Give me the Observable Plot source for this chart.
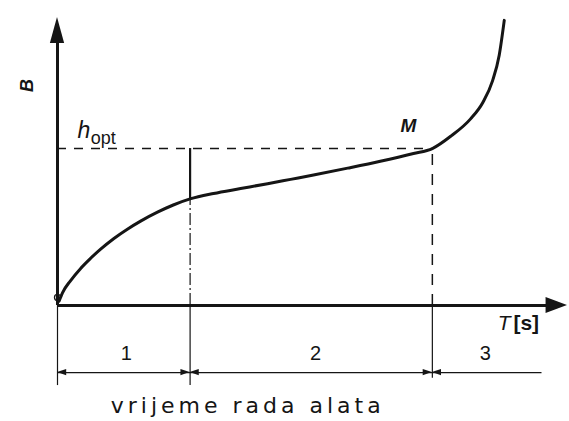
<!DOCTYPE html>
<html><head><meta charset="utf-8">
<script src="https://cdn.jsdelivr.net/npm/d3@7"></script>
<script src="https://cdn.jsdelivr.net/npm/@observablehq/plot@0.6"></script>
<style>body{margin:0;background:#fff}</style>
</head><body><div id="chart"></div>
<script>
// Wear curve B(T): time of tool work (abstract units 0-100) vs wear
const curveT = [0.3, 1.0, 2.5, 4.5, 6.5, 8.4, 11.0, 13.7, 16.3, 19.6, 22.7, 26.0, 30.6, 35.9, 41.2, 45.7, 50.2, 56.9, 63.3, 69.8, 73.5, 77.2, 81.0, 83.4, 85.3, 86.6, 87.6];
const curveB = [1.5, 4.5, 8.5, 12.8, 16.4, 19.5, 23.2, 26.5, 29.3, 32.4, 34.9, 37.0, 38.9, 40.6, 42.3, 43.8, 45.3, 47.7, 50.1, 52.8, 54.5, 58.9, 64.8, 70.5, 78.0, 86.8, 99.0];
const hOpt = 54.5;          // optimal wear level h_opt
const tM = 73.5;            // time at point M
const t1 = 26.0;            // end of phase 1
const bAtT1 = 37.0;         // wear at end of phase 1
const phaseLabels = ["1", "2", "3"];
const phaseCenters = [13.5, 50.6, 83.9];
const dimEnd = 95;

const curve = curveT.map((t, i) => ({t, b: curveB[i]}));
const ink = "#151515";

// arrowhead helpers (filled triangles through areas)
const hArrow = (tip, y, dir, len, half, z) => [
  {x: tip, y1: y, y2: y, z},
  {x: tip - dir * len, y1: y - half, y2: y + half, z}
];
const dimY = -23.3;
const dimArrows = [
  ...hArrow(0, dimY, -1, 1.8, 1.05, "a"),
  ...hArrow(t1, dimY, 1, 1.8, 1.05, "b"),
  ...hArrow(t1, dimY, -1, 1.8, 1.05, "c"),
  ...hArrow(tM, dimY, 1, 1.8, 1.05, "d"),
  ...hArrow(tM, dimY, -1, 1.8, 1.05, "e")
];
const xAxisArrow = hArrow(100, 0, 1, 4.2, 2.8, "x");
const yAxisArrow = [{y: 100, x1: 0, x2: 0}, {y: 91, x1: -1.4, x2: 1.4}];

const label = (text, x, y, opts) => Plot.text([text], {x: () => x, y: () => y, text: d => d, fill: ink, fontFamily: "Liberation Sans, Arial, sans-serif", ...opts});

const chart = Plot.plot({
  width: 569, height: 421,
  marginLeft: 57, marginRight: 2, marginTop: 17, marginBottom: 116,
  x: {domain: [0, 100], axis: null},
  y: {domain: [0, 100], axis: null},
  marks: [
    // axes
    Plot.ruleY([0], {x1: 0, x2: 97, stroke: ink, strokeWidth: 3}),
    Plot.ruleX([0], {y1: 0, y2: 93, stroke: ink, strokeWidth: 3}),
    Plot.areaY(xAxisArrow, {x: "x", y1: "y1", y2: "y2", z: "z", fill: ink, curve: "linear"}),
    Plot.areaX(yAxisArrow, {y: "y", x1: "x1", x2: "x2", fill: ink, curve: "linear"}),
    // guide lines
    Plot.ruleY([hOpt], {x1: 0, x2: tM, stroke: ink, strokeWidth: 1.5, strokeDasharray: "9,8"}),
    Plot.ruleX([tM], {y1: 0, y2: hOpt, stroke: ink, strokeWidth: 1.5, strokeDasharray: "11,9"}),
    Plot.ruleX([t1], {y1: bAtT1, y2: hOpt, stroke: ink, strokeWidth: 2.2}),
    Plot.ruleX([t1], {y1: 0, y2: bAtT1, stroke: ink, strokeWidth: 1.2, strokeDasharray: "12,3,2,3"}),
    // extension + dimension lines
    Plot.ruleX([0, t1], {y1: -27.8, y2: 0, stroke: ink, strokeWidth: 1.2}),
    Plot.ruleX([tM], {y1: -25.3, y2: 0, stroke: ink, strokeWidth: 1.2}),
    Plot.ruleY([dimY], {x1: 0, x2: dimEnd, stroke: ink, strokeWidth: 1.2}),
    Plot.areaY(dimArrows, {x: "x", y1: "y1", y2: "y2", z: "z", fill: ink, curve: "linear"}),
    // wear curve
    Plot.line(curve, {x: "t", y: "b", stroke: ink, strokeWidth: 3, curve: "monotone-x"}),
    Plot.dot([curve[0]], {x: () => 0, y: () => 2.8, r: 3, stroke: ink, strokeWidth: 1.3, fill: "none"}),
    // labels
    label("B", -5.9, 76.4, {fontSize: 18, fontWeight: "bold", fontStyle: "italic", rotate: -90}),
    label("h", 3.9, 58.0, {fontSize: 23, fontStyle: "italic", textAnchor: "start", lineAnchor: "bottom"}),
    label("opt", 6.5, 56.2, {fontSize: 18, textAnchor: "start", lineAnchor: "bottom"}),
    label("M", 68.8, 62.5, {fontSize: 19, fontWeight: "bold", fontStyle: "italic"}),
    label("T", 86.3, -6.3, {fontSize: 21, fontStyle: "italic", textAnchor: "start"}),
    label("[s]", 89.4, -6.3, {fontSize: 21, fontWeight: "bold", textAnchor: "start"}),
    Plot.text(phaseLabels, {x: (d, i) => phaseCenters[i], y: () => -16.7, text: d => d, fill: ink, fontSize: 20, fontFamily: "Liberation Sans, Arial, sans-serif"}),
    label("vrijeme rada alata", 37.3, -34.8, {fontSize: 22, fontFamily: "DejaVu Sans, sans-serif"})
  ]
});
d3.select(chart).selectAll("text").filter(function() { return this.textContent === "vrijeme rada alata"; }).attr("letter-spacing", "4px");
document.getElementById("chart").appendChild(chart);
</script>
</body></html>
